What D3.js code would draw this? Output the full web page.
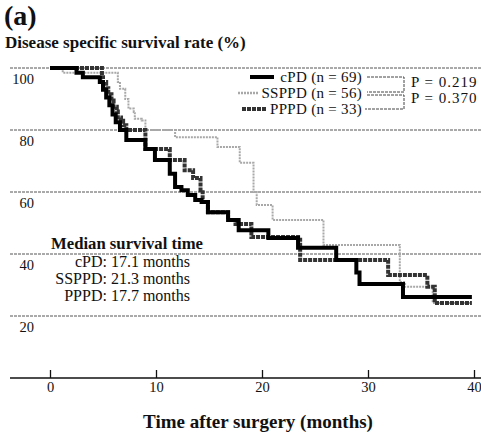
<!DOCTYPE html>
<html>
<head>
<meta charset="utf-8">
<script src="https://cdn.jsdelivr.net/npm/d3@7"></script>
<style>
  body { margin: 0; background: #fff; }
  text { font-family: "Liberation Serif", "DejaVu Serif", serif; fill: #111; }
</style>
</head>
<body>
<div id="chart"></div>
<script>
// Kaplan-Meier curves, disease specific survival after surgery

// step data: time (months) and survival (%) after each drop
const cpdTime = [0, 2.5, 3.1, 4.7, 5.0, 5.3, 5.6, 5.9, 6.2, 6.6, 7.2, 9.0, 9.9, 11.3, 11.8, 12.4, 13.0, 13.7, 14.3, 14.9, 16.8, 17.8, 20.6, 23.4, 27.0, 28.9, 29.2, 33.3, 39.8];
const cpdSurv = [100, 98.5, 97, 95.5, 93, 90.5, 88, 85, 82.5, 80, 76.8, 73.9, 70.3, 65.9, 61.6, 60.6, 59, 57.4, 56.8, 53.5, 51, 47.7, 45.2, 42, 38.1, 34, 30.3, 26.1, 26.1];

const ssTime = [0, 1.2, 6.4, 6.6, 7.1, 7.4, 7.9, 8.0, 8.65, 9.0, 11.8, 15.8, 17.9, 19.2, 19.5, 21.0, 25.8, 33.0, 33.5, 36.1, 39.8];
const ssSurv = [100, 98.5, 95.5, 93.3, 90, 86.9, 85.8, 83.6, 83.1, 80, 77.7, 74.5, 69.4, 60, 55.8, 51, 42.9, 31, 29.4, 24.2, 24.2];

const ppTime = [0, 4.9, 5.0, 5.3, 5.5, 5.8, 6.0, 6.3, 6.4, 6.7, 6.9, 7.2, 9.0, 11.3, 12.7, 13.5, 14.2, 14.4, 14.9, 16.8, 17.5, 19.0, 23.6, 31.9, 35.6, 36.3, 39.8];
const ppSurv = [100, 97, 95.5, 93.5, 91.5, 89.5, 87.5, 86, 84, 83, 81.5, 80, 73.9, 70.3, 67, 64.5, 60.6, 56.8, 53.5, 51, 49.7, 45.5, 38.1, 33.2, 29.4, 24.2, 24.2];

const xTicks = [0, 10, 20, 30, 40];
const yTicks = [20, 40, 60, 80, 100];

const legendNames = ['cPD (n = 69)', 'SSPPD (n = 56)', 'PPPD (n = 33)'];
const pValues = ['P = 0.219', 'P = 0.370'];
const medianLines = ['cPD: 17.1 months', 'SSPPD: 21.3 months', 'PPPD: 17.7 months'];

const W = 481, H = 435;

const svg = d3.select('#chart').append('svg')
  .attr('width', W).attr('height', H);

const x = d3.scaleLinear().domain([0, 40]).range([50, 474]);
const y = d3.scaleLinear().domain([0, 100]).range([378, 68]);

// titles
svg.append('text').attr('x', 4).attr('y', 25)
  .style('font-size', '28px').style('font-weight', 'bold').text('(a)');
svg.append('text').attr('x', 5).attr('y', 48)
  .style('font-size', '17px').style('font-weight', 'bold').text('Disease specific survival rate (%)');
svg.append('text').attr('x', 258).attr('y', 428).attr('text-anchor', 'middle')
  .style('font-size', '19px').style('font-weight', 'bold').text('Time after surgery (months)');

// horizontal grid lines
svg.append('g').selectAll('line').data(yTicks).join('line')
  .attr('x1', 10).attr('x2', W)
  .attr('y1', d => y(d)).attr('y2', d => y(d))
  .attr('stroke', '#555').attr('stroke-width', 1).attr('stroke-dasharray', '3,1');

// y labels sit just under each grid line
const yAxisG = svg.append('g').attr('transform', 'translate(34,0)')
  .call(d3.axisLeft(y).tickValues(yTicks).tickSize(0).tickPadding(0));
yAxisG.select('.domain').remove();
yAxisG.selectAll('text').attr('dy', '1.1em')
  .style('font-family', '"Liberation Serif", serif').style('font-size', '14.5px').attr('fill', '#111');

// x axis, ticks pointing up
svg.append('line').attr('x1', 10).attr('x2', W).attr('y1', 378).attr('y2', 378)
  .attr('stroke', '#111').attr('stroke-width', 1.5);
const xAxisG = svg.append('g').attr('transform', 'translate(0,378)')
  .call(d3.axisBottom(x).tickValues(xTicks).tickSizeInner(-8).tickSizeOuter(0).tickPadding(4));
xAxisG.select('.domain').remove();
xAxisG.selectAll('line').attr('stroke', '#111').attr('stroke-width', 1.3);
xAxisG.selectAll('text')
  .style('font-family', '"Liberation Serif", serif').style('font-size', '14.5px').attr('fill', '#111');

// survival curves
const step = d3.line().x(d => x(d[0])).y(d => y(d[1])).curve(d3.curveStepAfter);
const series = [
  { time: ssTime, surv: ssSurv, color: '#a8a8a8', width: 2, dash: '2,1' },
  { time: ppTime, surv: ppSurv, color: '#333', width: 4, dash: '4,1' },
  { time: cpdTime, surv: cpdSurv, color: '#000', width: 4, dash: null }
];
series.forEach(s => {
  const pts = s.time.map((t, i) => [t, s.surv[i]]);
  svg.append('path').datum(pts)
    .attr('d', step)
    .attr('fill', 'none')
    .attr('stroke', s.color)
    .attr('stroke-width', s.width)
    .attr('stroke-dasharray', s.dash);
});

// legend
const legRows = [
  { y: 77, x1: 250, x2: 274, color: '#000', width: 4, dash: null },
  { y: 93, x1: 238, x2: 259, color: '#a8a8a8', width: 2.5, dash: '2,1' },
  { y: 109, x1: 242, x2: 267, color: '#333', width: 4, dash: '4,1' }
];
legRows.forEach((r, i) => {
  svg.append('line').attr('x1', r.x1).attr('x2', r.x2).attr('y1', r.y).attr('y2', r.y)
    .attr('stroke', r.color).attr('stroke-width', r.width).attr('stroke-dasharray', r.dash);
  svg.append('text').attr('x', 362).attr('y', r.y + 5).attr('text-anchor', 'end')
    .style('font-size', '15px').style('letter-spacing', '0.3px').text(legendNames[i]);
});

// brackets joining compared groups
const br = svg.append('g').attr('fill', 'none').attr('stroke', '#444')
  .attr('stroke-width', 1).attr('stroke-dasharray', '3,1');
br.append('path').attr('d', 'M367,77 H404 V92 H367');
br.append('path').attr('d', 'M367,95 H404 V109 H365');
pValues.forEach((p, i) => {
  svg.append('text').attr('x', 411).attr('y', 87 + i * 16)
    .style('font-size', '15px').style('letter-spacing', '1px').text(p);
});

// median survival box
svg.append('text').attr('x', 127).attr('y', 249).attr('text-anchor', 'middle')
  .style('font-size', '16.7px').style('font-weight', 'bold').text('Median survival time');
medianLines.forEach((t, i) => {
  svg.append('text').attr('x', 190).attr('y', 267 + i * 17).attr('text-anchor', 'end')
    .style('font-size', '16px').text(t);
});
</script>
</body>
</html>
